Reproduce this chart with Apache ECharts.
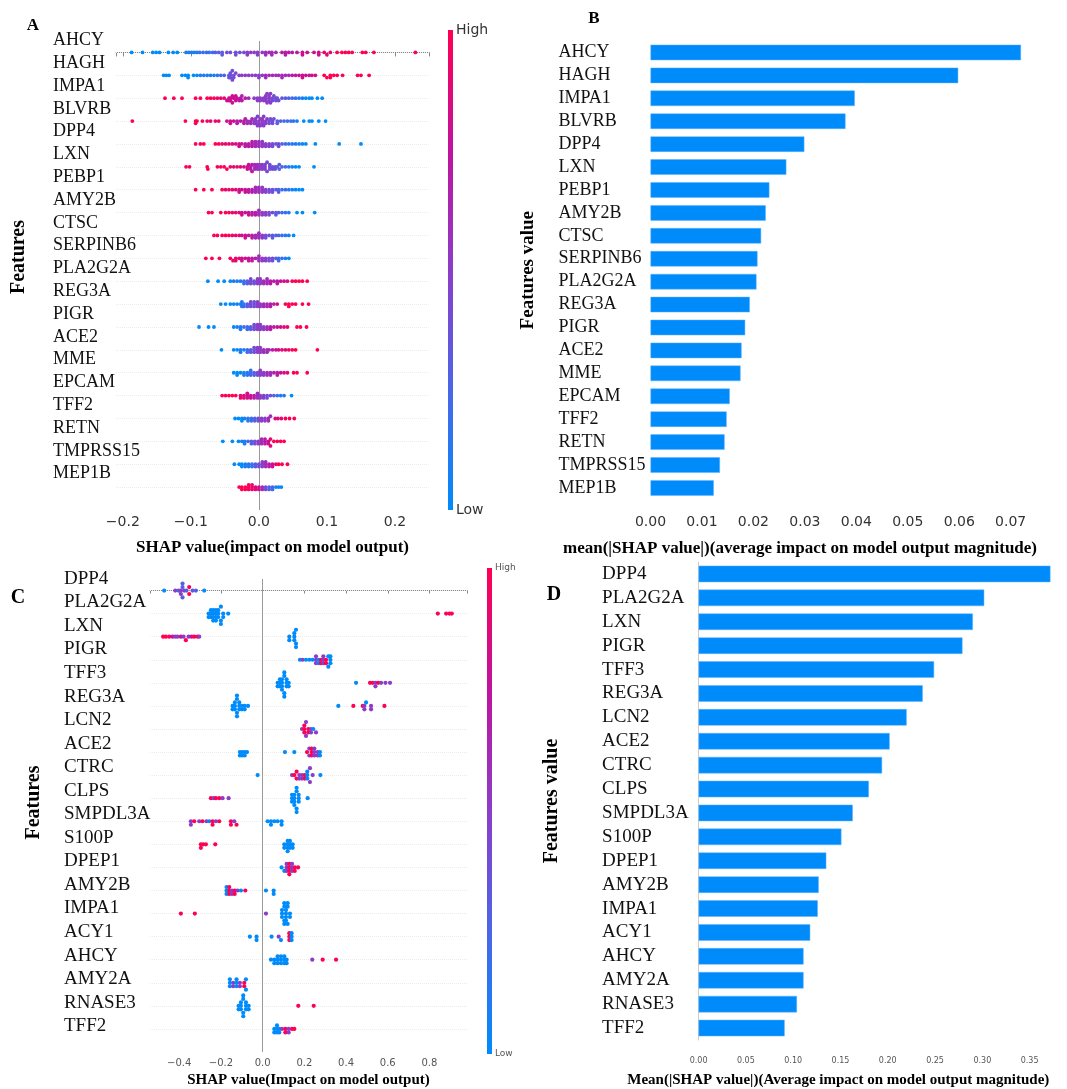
<!DOCTYPE html>
<html>
<head>
<meta charset="utf-8">
<title>SHAP summary</title>
<script src="https://cdn.jsdelivr.net/npm/echarts@6/dist/echarts.min.js"></script>
<style>
  html, body { margin: 0; padding: 0; background: #fff; }
  #chart { width: 1067px; height: 1089px; }
</style>
</head>
<body>
<div id="chart"></div>
<script>
// panel A / B features (same order)
const featuresA = ['AHCY', 'HAGH', 'IMPA1', 'BLVRB', 'DPP4', 'LXN', 'PEBP1', 'AMY2B', 'CTSC', 'SERPINB6',
	'PLA2G2A', 'REG3A', 'PIGR', 'ACE2', 'MME', 'EPCAM', 'TFF2', 'RETN', 'TMPRSS15', 'MEP1B'];

// panel C / D features
const featuresC = ['DPP4', 'PLA2G2A', 'LXN', 'PIGR', 'TFF3', 'REG3A', 'LCN2', 'ACE2', 'CTRC', 'CLPS',
	'SMPDL3A', 'S100P', 'DPEP1', 'AMY2B', 'IMPA1', 'ACY1', 'AHCY', 'AMY2A', 'RNASE3', 'TFF2'];

// beeswarm points per feature: [SHAP value x1000, feature value 0-10, dots stacked (optional)]
const shapA = [
	[[-187,0],[-171,0],[-156,0],[-151,0],[-146,0],[-133,0],[-126,0],[-120,0],[-107,1],[-103,1],[-99,1],[-95,1],[-91,1],[-87,2],[-82,2],[-77,2],[-73,2],[-68,2],[-64,3],[-59,3],[-54,3,2],[-47,4],[-42,4],[-34,4,2],[-28,4],[-22,4],[-17,5,2],[-12,5],[-7,5],[-2,5,2],[5,5],[10,6,2],[15,6],[19,6,2],[25,6],[34,7],[39,7,2],[44,7],[49,7],[56,7],[64,8,2],[71,8],[81,8],[88,8,2],[96,9],[100,9],[105,9],[115,10],[122,10],[127,10],[132,10],[137,10],[152,10],[157,10],[169,10],[230,10]],
	[[-140,0],[-136,0],[-132,0],[-113,0],[-108,0],[-104,0,2],[-96,0],[-91,0],[-86,1],[-81,1],[-76,1],[-71,1],[-66,1],[-61,1],[-56,2],[-51,3],[-44,3,2],[-42,4,3],[-39,4,2],[-37,4,2],[-34,4],[-29,5],[-25,5],[-20,5],[-15,5],[-10,5],[-5,5],[0,5,2],[5,5],[10,6,2],[15,6],[20,6],[25,6],[29,6],[34,6,2],[39,6],[44,6],[49,7],[54,7],[59,8],[64,8,2],[69,8],[74,8],[78,8],[83,8],[96,10],[100,10],[105,10,2],[110,10],[115,10],[123,10],[145,10],[150,10],[162,10]],
	[[-138,10],[-125,10],[-113,10],[-93,10],[-86,10],[-76,10],[-71,10],[-66,10],[-61,9],[-56,9],[-51,9],[-47,8],[-44,8,2],[-42,8,2],[-39,8,2],[-37,8],[-34,8,2],[-32,8],[-29,7],[-27,7],[-25,7,2],[-20,7],[-15,6],[-7,5],[-2,5,2],[2,5,2],[7,5,2],[10,5,3],[12,5,2],[15,5,3],[17,5,2],[20,4,2],[22,4],[25,4,2],[27,4],[29,4],[34,3],[39,3],[44,3],[49,2],[54,2],[59,1],[64,1],[69,0],[74,0],[78,0],[86,0],[93,0]],
	[[-186,10],[-108,10],[-93,10,2],[-91,10],[-83,10],[-76,9],[-71,9],[-64,9],[-59,9],[-47,8],[-42,8,2],[-37,8],[-32,7,2],[-27,7],[-22,7,2],[-20,7],[-17,6,2],[-12,6,2],[-10,6],[-7,5,2],[-5,5,3],[-2,5,2],[0,5,2],[2,5,2],[5,5,3],[7,5,2],[10,5,2],[12,5],[15,4,2],[17,4],[20,4,2],[22,4],[27,3,2],[32,3],[37,2],[42,2],[47,2],[51,1],[56,1],[66,0],[74,0],[78,0],[88,0],[98,0]],
	[[-93,10],[-86,10],[-81,10],[-64,10],[-59,10],[-54,9],[-49,9],[-44,9],[-39,9],[-34,8],[-29,8,2],[-25,8],[-20,7,2],[-15,7,2],[-10,7,3],[-5,6,3],[0,6,3],[5,5,3],[10,5,2],[15,5,2],[20,4,2],[25,4],[29,4,2],[34,3],[39,2],[44,2],[49,1],[54,1],[59,1],[64,0],[69,0],[83,0],[118,0],[150,0]],
	[[-107,10],[-102,10],[-76,10],[-75,10],[-61,10],[-56,10],[-51,10],[-47,10],[-42,9],[-37,9],[-32,9],[-27,9],[-22,8],[-17,8,2],[-15,8],[-12,7,2],[-10,7,2],[-6,6,3],[-2,6,3],[1,5,3],[5,5,3],[9,5,3],[12,4,2],[16,4,3],[20,4,2],[24,4,2],[27,3],[30,3,2],[34,3],[39,2],[44,1],[49,1],[54,0],[59,0],[81,0]],
	[[-93,10],[-81,10],[-69,10],[-54,10],[-49,9],[-44,9],[-39,9],[-34,9],[-29,8,2],[-25,8],[-20,8,2],[-15,7,2],[-10,7,2],[-5,6,3],[0,6,3],[5,5,3],[10,5,2],[15,4,2],[20,4,2],[25,3],[29,3,2],[34,2],[39,2],[44,1],[49,1],[54,0],[59,0],[64,0]],
	[[-74,10],[-69,10],[-56,10],[-49,10],[-44,10],[-39,9],[-34,9],[-29,9],[-25,8,2],[-20,8],[-15,8,2],[-10,7,2],[-5,7,2],[0,6,3],[5,5,2],[10,5,2],[15,4,2],[20,4],[25,3,2],[29,3],[34,2],[39,2],[44,1],[56,0],[64,0],[82,0]],
	[[-66,10],[-61,10],[-54,10],[-49,10],[-44,10],[-39,9],[-34,9],[-29,9],[-25,8],[-20,8,2],[-15,7],[-10,7,2],[-5,6,2],[0,6,3],[5,5,2],[10,4,2],[15,4],[20,3,2],[25,3],[29,2],[34,2],[39,1],[44,1],[51,0]],
	[[-78,10],[-69,10],[-58,10],[-42,10],[-38,9],[-34,9,2],[-29,9],[-25,8,2],[-20,8],[-15,8,2],[-10,7,2],[-5,7],[0,6,3],[5,5,2],[10,5,2],[15,4,2],[20,4,2],[25,3],[29,2,2],[34,2],[39,1],[44,0]],
	[[-75,0],[-60,0],[-51,0],[-42,0],[-37,1],[-32,1],[-27,1],[-22,2,2],[-17,3,2],[-12,4,3],[-7,4,2],[-2,5,3],[2,5,3],[7,6,2],[12,6,3],[17,7,2],[22,7],[27,7,2],[32,8],[37,8],[42,8],[49,10],[54,10],[59,10],[64,10],[71,10]],
	[[-56,0],[-49,0],[-42,0],[-37,0],[-32,1],[-27,1],[-25,1,2],[-22,2,2],[-17,3,2],[-12,4,3],[-7,4,3],[-2,5,3],[2,5,2],[7,6,2],[12,6,2],[17,7,2],[22,7],[27,8],[39,10],[44,10,2],[49,10],[54,10],[64,10],[73,10]],
	[[-88,0],[-74,0],[-66,0],[-37,0],[-32,1],[-27,1,2],[-22,2],[-17,2,2],[-12,3,2],[-7,4,3],[-2,5,3],[2,5,3],[7,5,2],[12,6,2],[17,7,2],[22,7],[27,8],[32,8],[37,9],[42,9],[56,10],[61,10],[70,10]],
	[[-55,0],[-37,0],[-32,0],[-27,1,2],[-22,1],[-17,2,2],[-12,3,2],[-7,4,3],[-2,5,3],[2,5,3],[7,6,2],[12,6,2],[15,6],[20,7],[25,8],[29,8],[34,9],[39,9],[44,9],[49,10],[54,10],[86,10]],
	[[-37,0],[-32,0,2],[-27,0],[-22,1,2],[-17,1,2],[-12,2,3],[-7,3,2],[-2,4,2],[2,5,3],[7,5,2],[12,6,2],[17,6,2],[22,7],[27,7,2],[32,8],[37,8],[42,9],[51,10],[56,10],[71,10]],
	[[-54,10],[-49,10],[-44,10],[-39,10],[-34,10],[-27,9,2],[-22,9,2],[-17,8,3],[-12,8,2],[-7,7,2],[-2,6,3],[2,5,2],[7,5,2],[12,4,2],[17,4],[22,3],[27,2],[32,1],[37,1],[48,0]],
	[[-35,0],[-30,0],[-25,0,2],[-21,1],[-16,1,2],[-11,2,2],[-6,3,2],[-1,4,2],[4,5,2],[9,5,2],[14,6,2],[17,6],[24,8],[28,9],[33,9],[39,10],[45,10],[52,10]],
	[[-53,0],[-39,0],[-30,0],[-25,1],[-21,1,2],[-16,2],[-11,3,2],[-6,4,2],[-1,5,2],[4,6,3],[9,7,3],[14,8,2],[17,9,2],[22,10],[27,10],[32,10],[37,10]],
	[[-36,0],[-29,0],[-25,0,2],[-20,1,2],[-15,1,2],[-10,2,2],[-5,3,2],[0,4,2],[5,5,3],[10,6,3],[15,7,2],[20,8,2],[25,9],[29,10],[34,10],[42,10]],
	[[-29,10],[-25,10,2],[-20,10,2],[-15,10,3],[-10,9,3],[-5,9,2],[0,8,2],[5,6,2],[10,4,2],[15,3,2],[20,2,2],[25,1],[29,0],[33,0]]
];

const shapC = [
	[[-472,0],[-419,5],[-403,3],[-392,5,2],[-384,3,3],[-376,5],[-365,3],[-352,10,2],[-336,3],[-320,3],[-280,0]],
	[[-259,0,2],[-248,0,3],[-237,0,4],[-224,0,4],[-213,0,3],[-200,0,3],[-189,0,2],[-165,0],[840,10],[880,10],[896,10],[907,10]],
	[[-477,10],[-464,10],[-448,10],[-432,8],[-419,5],[-408,5],[-392,8],[-379,5],[-368,10],[-355,5],[-341,8],[-328,10],[-312,10],[-304,5],[128,0,2],[152,0,3],[160,0,3]],
	[[179,0],[192,5],[208,0],[224,0],[240,0],[256,5,3],[269,0,2],[280,10,2],[291,5,3],[304,10,2],[315,0,2],[325,0,3]],
	[[72,0,2],[83,0,3],[93,0,4],[104,0,4],[115,0,3],[125,0,2],[448,0],[515,10],[528,10],[541,5,2],[554,10],[568,5],[589,5],[611,5]],
	[[-144,0,2],[-133,0,3],[-123,0,4],[-112,0,3],[-99,0,2],[-86,0,2],[-70,0],[363,0],[435,10],[480,10],[488,5,2],[496,0],[520,5,2],[584,10]],
	[[189,5],[200,10,3],[208,5,2],[219,10,2],[232,5,2],[243,0],[256,5]],
	[[-109,0,2],[-98,0,2],[-86,0,2],[-75,0],[107,0],[152,0],[213,10],[224,5,2],[235,10,3],[248,5,3],[264,5,2],[275,0,2]],
	[[-24,0],[141,5],[152,10],[163,10,2],[176,5,2],[189,5,2],[202,10,2],[214,0,3],[227,5,2],[240,5],[277,0]],
	[[-248,10],[-235,5],[-224,10],[-208,10],[-192,5],[-163,5],[141,0,3],[152,0,4],[163,0,4],[173,0,3],[216,0]],
	[[-344,5,2],[-328,10],[-304,5],[-288,10],[-269,5],[-256,0],[-240,10,2],[-224,5],[-208,10],[-152,10,2],[-136,5],[-125,10],[24,0],[40,0,2],[56,0],[72,0],[91,0,2]],
	[[-296,10,2],[-285,10],[-272,10],[-227,10],[104,0,2],[120,0,4],[131,0,3],[144,0,2]],
	[[91,0],[104,0],[115,5,3],[128,10,4],[141,5,3],[154,10,2],[170,10]],
	[[-173,0,3],[-160,10,3],[-147,5,2],[-134,10,2],[-120,5],[-104,0],[-83,10],[16,0],[53,0,2]],
	[[-392,10],[-325,10],[16,5],[93,0,3],[104,0,4],[112,0,4],[120,0,3],[131,0,2]],
	[[-61,0],[-29,0,2],[43,0],[77,5],[88,0],[128,10,3],[139,0,3]],
	[[40,0],[56,0,2],[72,0,3],[88,0,3],[104,0,3],[115,0,2],[238,5],[288,10],[352,10]],
	[[-157,0,3],[-141,5,2],[-125,0,3],[-109,5,2],[-88,10,2],[-80,0,2]],
	[[-115,0,2],[-104,0,3],[-93,0,4],[-80,0,3],[-67,0,2],[171,10],[245,10]],
	[[56,0,2],[69,0,3],[80,0,2],[93,5],[109,10,2],[125,5,2],[141,10],[152,10]]
];

// mean(|SHAP|) bars
const meanB = [0.0720, 0.0598, 0.0397, 0.0379, 0.0299, 0.0264, 0.0231, 0.0224, 0.0215, 0.0208,
	0.0206, 0.0193, 0.0184, 0.0177, 0.0175, 0.0154, 0.0148, 0.0144, 0.0135, 0.0123];
const meanD = [0.372, 0.302, 0.290, 0.279, 0.249, 0.237, 0.220, 0.202, 0.194, 0.180,
	0.163, 0.151, 0.135, 0.127, 0.126, 0.118, 0.111, 0.111, 0.104, 0.091];

const SERIF = '"Liberation Serif", "Times New Roman", serif';
const SANS = '"DejaVu Sans", sans-serif';
const shapColors = ['#008bfb', '#4a66e8', '#8c3dc8', '#c0139e', '#ff0052'];

/**
 * Lays out the beeswarm: dots that fall into the same x bin are
 * stacked alternately below / above the row (like shap.summary_plot)
 */
function swarm(rows, xmin, xmax, step){
	var out = [];
	var binW = (xmax - xmin) / 100;
	rows.forEach(function(pts, r){
		var list = [];
		pts.forEach(function(p){
			for(var k = 0; k < (p[2] || 1); k++){ list.push(p); }
		});
		list.sort(function(a, b){ return a[0] - b[0]; });
		var bins = {};
		list.forEach(function(p){
			var v = p[0] / 1000;
			var b = Math.round((v - xmin) / binW);
			var layer = bins[b] = (bins[b] === undefined) ? 0 : bins[b] + 1;
			var off = Math.ceil(layer / 2) * (layer % 2 ? 1 : -1);
			out.push([v, r + off * step, p[1]]);
		});
	});
	return out;
}

// labels only where the value sits on the step
function stepLabel(step, digits, minus){
	return function(v){
		if(Math.abs(v / step - Math.round(v / step)) > 1e-6){ return ''; }
		var s = v.toFixed(digits);
		if(minus){ s = s.replace('-', '\u2212'); }
		return s;
	};
}

// faint row guides + zero line, kept in their own series so they sit under the dots
function guideSeries(xIdx, yIdx, n){
	var rowStyle = { color: '#ececec', width: 1, type: 'dotted' };
	var lines = [];
	for(var i = 0; i < n; i++){
		lines.push({ yAxis: i, lineStyle: rowStyle });
	}
	lines.push({ xAxis: 0, lineStyle: { color: '#999', width: 1, type: 'solid' } });
	return {
		type: 'scatter', xAxisIndex: xIdx, yAxisIndex: yIdx, data: [], z: 1, silent: true,
		markLine: { z: 1, silent: true, symbol: 'none', label: { show: false }, animation: false,
			lineStyle: rowStyle, data: lines }
	};
}

// vertical colour bar (high at top)
function colorBar(x, y, h, textColor, fontSize){
	var stops = shapColors.map(function(c, i){
		return { offset: 1 - i / (shapColors.length - 1), color: c };
	});
	return [
		{ type: 'rect', shape: { x: x, y: y, width: 5, height: h },
			style: { fill: new echarts.graphic.LinearGradient(0, 0, 0, 1, stops) } },
		{ type: 'text', x: x + 8, y: y, style: { text: 'High', font: fontSize + 'px ' + SANS, fill: textColor, verticalAlign: 'middle' } },
		{ type: 'text', x: x + 8, y: y + h, style: { text: 'Low', font: fontSize + 'px ' + SANS, fill: textColor, verticalAlign: 'middle' } }
	];
}

const A_MIN = -0.21, A_MAX = 0.25;
const C_MIN = -0.54, C_MAX = 0.98;

var chart = echarts.init(document.getElementById('chart'), null, { renderer: 'canvas' });

var catLabel = function(margin, size){
	return { interval: 0, align: 'left', margin: margin, fontFamily: SERIF, fontSize: size, color: '#111' };
};

var option = {
	animation: false,
	backgroundColor: '#fff',
	grid: [
		{ left: 116, right: 638, top: 41, bottom: 579 },     // A dots
		{ left: 116, right: 638, top: 29, bottom: 604 },     // A labels
		{ left: 650.5, right: 27.5, top: 41, bottom: 589.6 }, // B
		{ left: 150, right: 600, top: 579, bottom: 36 },     // C dots
		{ left: 150, right: 600, top: 567, bottom: 51 },     // C labels
		{ left: 698.6, right: 9, top: 562, bottom: 48.6 }     // D
	],
	xAxis: [
		{
			gridIndex: 0, type: 'value', min: A_MIN, max: A_MAX, splitLine: { show: false },
			axisLine: { lineStyle: { color: '#888' } },
			axisTick: { length: 4, lineStyle: { color: '#888' } },
			axisLabel: { fontFamily: SANS, fontSize: 14, color: '#333', margin: 5, formatter: stepLabel(0.1, 1, true) },
			name: 'SHAP value(impact on model output)', nameLocation: 'middle', nameGap: 29,
			nameTextStyle: { fontFamily: SERIF, fontWeight: 'bold', fontSize: 17, color: '#000' }
		},
		{ gridIndex: 1, type: 'value', show: false },
		{
			gridIndex: 2, type: 'value', min: 0, max: 0.0756, interval: 0.01, offset: 11.3,
			splitLine: { show: false },
			axisLine: { lineStyle: { color: '#888' } },
			axisTick: { length: 4, lineStyle: { color: '#888' } },
			axisLabel: { fontFamily: SANS, fontSize: 14, color: '#333', margin: 5, formatter: stepLabel(0.01, 2) },
			name: 'mean(|SHAP value|)(average impact on model output magnitude)', nameLocation: 'middle', nameGap: 29,
			nameTextStyle: { fontFamily: SERIF, fontWeight: 'bold', fontSize: 17, color: '#000', padding: [0, 90, 0, 0] }
		},
		{
			gridIndex: 3, type: 'value', min: C_MIN, max: C_MAX, splitNumber: 8, splitLine: { show: false },
			axisLine: { lineStyle: { color: '#888' } },
			axisTick: { length: 3, lineStyle: { color: '#888' } },
			axisLabel: { fontFamily: SANS, fontSize: 10, color: '#555', margin: 6, formatter: stepLabel(0.2, 1, true) },
			name: 'SHAP value(Impact on model output)', nameLocation: 'middle', nameGap: 21,
			nameTextStyle: { fontFamily: SERIF, fontWeight: 'bold', fontSize: 15, color: '#000' }
		},
		{ gridIndex: 4, type: 'value', show: false },
		{
			gridIndex: 5, type: 'value', min: 0, max: 0.38, interval: 0.05, offset: 12,
			splitLine: { show: false }, axisLine: { show: false }, axisTick: { show: false },
			axisLabel: { fontFamily: SANS, fontSize: 8, color: '#555', margin: 5, formatter: stepLabel(0.05, 2) },
			name: 'Mean(|SHAP value|)(Average impact on model output magnitude)', nameLocation: 'middle', nameGap: 21,
			nameTextStyle: { fontFamily: SERIF, fontWeight: 'bold', fontSize: 15, color: '#000', padding: [0, 80, 0, 0] }
		}
	],
	yAxis: [
		{ gridIndex: 0, type: 'value', inverse: true, min: -0.5, max: 20, show: false },
		{
			gridIndex: 1, type: 'category', inverse: true, data: featuresA,
			axisLine: { show: false }, axisTick: { show: false },
			axisLabel: catLabel(63, 18),
			name: 'Features', nameLocation: 'middle', nameRotate: 90, nameGap: 87,
			nameTextStyle: { fontFamily: SERIF, fontWeight: 'bold', fontSize: 20, color: '#000' }
		},
		{
			gridIndex: 2, type: 'category', inverse: true, data: featuresA,
			axisLine: { show: false }, axisTick: { show: false },
			axisLabel: catLabel(92, 18),
			name: 'Features value', nameLocation: 'middle', nameRotate: 90, nameGap: 113,
			nameTextStyle: { fontFamily: SERIF, fontWeight: 'bold', fontSize: 19, color: '#000' }
		},
		{ gridIndex: 3, type: 'value', inverse: true, min: -0.5, max: 20, show: false },
		{
			gridIndex: 4, type: 'category', inverse: true, data: featuresC,
			axisLine: { show: false }, axisTick: { show: false },
			axisLabel: catLabel(86, 19),
			name: 'Features', nameLocation: 'middle', nameRotate: 90, nameGap: 106,
			nameTextStyle: { fontFamily: SERIF, fontWeight: 'bold', fontSize: 20, color: '#000' }
		},
		{
			gridIndex: 5, type: 'category', inverse: true, data: featuresC,
			axisLine: { show: true, lineStyle: { color: '#ccc' } }, axisTick: { show: false },
			axisLabel: catLabel(96.5, 19),
			name: 'Features value', nameLocation: 'middle', nameRotate: 90, nameGap: 137,
			nameTextStyle: { fontFamily: SERIF, fontWeight: 'bold', fontSize: 20, color: '#000' }
		}
	],
	visualMap: [
		{
			type: 'continuous', show: false, seriesIndex: 0, dimension: 2, min: 0, max: 10,
			inRange: { color: shapColors }
		},
		{
			type: 'continuous', show: false, seriesIndex: 2, dimension: 2, min: 0, max: 10,
			inRange: { color: shapColors }
		}
	],
	series: [
		{
			type: 'scatter', xAxisIndex: 0, yAxisIndex: 0, symbol: 'circle', symbolSize: 3.8, z: 6,
			itemStyle: { opacity: 1, borderWidth: 0 },
			data: swarm(shapA, A_MIN, A_MAX, 0.1)
		},
		{
			type: 'bar', xAxisIndex: 2, yAxisIndex: 2, barWidth: 15.5, data: meanB,
			itemStyle: { color: '#008bfb', borderColor: '#5fb3ff', borderWidth: 0.5 }
		},
		{
			type: 'scatter', xAxisIndex: 3, yAxisIndex: 3, symbol: 'circle', symbolSize: 4.2, z: 6,
			itemStyle: { opacity: 1, borderWidth: 0 },
			data: swarm(shapC, C_MIN, C_MAX, 0.15)
		},
		{
			type: 'bar', xAxisIndex: 5, yAxisIndex: 5, barWidth: 16.5, data: meanD,
			itemStyle: { color: '#008bfb', borderColor: '#5fb3ff', borderWidth: 0.5 }
		},
		guideSeries(0, 0, featuresA.length),
		guideSeries(3, 3, featuresC.length)
	],
	graphic: [
		{ type: 'text', x: 33, y: 26, style: { text: 'A', font: 'bold 17px ' + SERIF, fill: '#000', align: 'center', verticalAlign: 'middle' } },
		{ type: 'text', x: 594, y: 19, style: { text: 'B', font: 'bold 17px ' + SERIF, fill: '#000', align: 'center', verticalAlign: 'middle' } },
		{ type: 'text', x: 18, y: 598, style: { text: 'C', font: 'bold 20px ' + SERIF, fill: '#000', align: 'center', verticalAlign: 'middle' } },
		{ type: 'text', x: 554, y: 595, style: { text: 'D', font: 'bold 20px ' + SERIF, fill: '#000', align: 'center', verticalAlign: 'middle' } }
	].concat(colorBar(448, 30, 480, '#333', 14), colorBar(487, 568, 486, '#555', 9))
};

chart.setOption(option);
</script>
</body>
</html>
